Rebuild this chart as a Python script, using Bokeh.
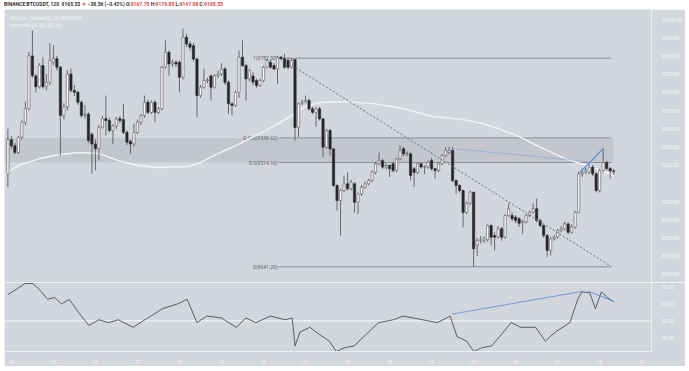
from bokeh.plotting import figure
from bokeh.models import Range1d, FixedTicker, NumeralTickFormatter, Label, Div, ColumnDataSource
from bokeh.layouts import column
from bokeh.core.properties import value
from bokeh.embed import file_html
from bokeh.resources import INLINE

# ---------------- data ----------------
opens = [9150,9340,9306,9270,9353,9436,9510,9800,9690,9630,9747,9630,9655,9765,9785,9738,9472,9520,9700,9610,
         9600,9545,9472,9480,9370,9316,9290,9408,9455,9445,9390,9415,9455,9450,9380,9330,9316,9380,9436,9472,
         9545,9490,9545,9490,9510,9738,9820,9756,9765,9765,9683,9903,9866,9856,9783,9582,9628,9665,9690,9628,
         9692,9700,9728,9655,9537,9528,9600,9793,9747,9674,9690,9665,9637,9665,9738,9765,9747,9728,9793,9785,
         9775,9738,9780,9407,9537,9546,9555,9509,9490,9509,9454,9298,9390,9289,9088,9005,9060,9097,9070,9097,
         8996,9042,9079,9097,9115,9161,9207,9225,9189,9198,9207,9170,9234,9290,9262,9262,9180,9160,9207,9189,
         9189,9225,9180,9170,9207,9253,9270,9280,9115,9088,9060,8940,8990,9051,8760,8785,8785,8790,8868,8813,
         8804,8850,8804,8923,8923,8914,8905,8885,8887,8923,8941,8960,8896,8868,8813,8731,8795,8804,8840,8850,
         8877,8831,8860,8941,9152,9161,9161,9189,9152,9060,9170,9214,9181,9167.75]
highs = [9400,9360,9320,9360,9445,9550,9820,9940,9700,9760,9790,9700,9870,9860,9800,9745,9540,9720,9730,9640,
         9610,9555,9530,9490,9380,9340,9420,9470,9582,9460,9425,9465,9470,9537,9390,9340,9427,9450,9480,9582,
         9560,9555,9555,9520,9745,9885,9830,9780,9775,9775,9950,9920,9880,9870,9790,9640,9730,9680,9700,9700,
         9720,9760,9740,9665,9545,9610,9830,9885,9755,9730,9710,9675,9675,9745,9785,9780,9760,9800,9800,9811,
         9790,9787.5,9780,9545,9560,9582,9565,9520,9520,9520,9460,9400,9400,9295,9095,9070,9143,9160,9120,9105,
         9050,9090,9110,9125,9170,9216,9270,9235,9210,9205,9215,9240,9308,9300,9275,9270,9190,9215,9215,9200,
         9225,9240,9185,9215,9260,9298,9300,9300,9120,9095,9065,9000,9060,9055,8800,8810,8810,8875,8875,8830,
         8865,8860,8930,8990,8940,8925,8915,8900,8930,8950,8990,9015,8905,8875,8820,8805,8815,8850,8865,8890,
         8885,8875,8950,9165,9180,9185,9210,9200,9160,9180,9291,9225,9190,9179.85]
lows = [9080,9290,9260,9262,9340,9420,9500,9680,9600,9620,9620,9610,9640,9750,9720,9253,9450,9500,9600,9580,
        9530,9460,9455,9320,9152,9170,9225,9400,9363,9380,9316,9400,9430,9370,9310,9262,9300,9370,9420,9460,
        9480,9480,9436,9480,9500,9730,9692,9740,9740,9600,9670,9850,9830,9770,9462,9570,9620,9650,9555,9620,
        9680,9690,9640,9482,9472,9520,9570,9740,9555,9660,9640,9625,9630,9655,9730,9730,9720,9646,9775,9730,
        9725,9730,9335,9353,9530,9540,9500,9480,9410,9445,9244,9290,9253,9080,8950,8813,9050,9060,9060,8940,
        8932,9030,9070,9090,9105,9150,9200,9180,9175,9134,9160,9160,9225,9250,9250,9115,9079,9150,9180,9150,
        9180,9170,9125,9160,9200,9245,9260,9105,9042,9050,8858,8930,8980,8641.2,8700,8770,8775,8780,8758,8730,
        8795,8785,8795,8915,8890,8880,8860,8822,8880,8915,8935,8885,8860,8800,8694,8703,8785,8795,8830,8840,
        8820,8825,8850,8935,9134,9150,9150,9140,9050,9050,9160,9170,9127,9147.08]
closes = [9340,9306,9270,9353,9436,9510,9800,9692,9630,9747,9630,9655,9775,9785,9738,9472,9520,9700,9610,9600,
          9545,9472,9480,9335,9316,9290,9408,9455,9445,9390,9415,9455,9445,9380,9326,9316,9380,9436,9472,9545,
          9490,9545,9490,9510,9738,9820,9756,9765,9755,9683,9903,9866,9848,9783,9582,9628,9665,9668,9628,9692,
          9700,9728,9655,9537,9528,9600,9793,9747,9674,9720,9656,9637,9665,9738,9775,9738,9728,9793,9785,9738,
          9738,9775,9407,9537,9546,9555,9509,9490,9509,9454,9298,9390,9289,9088,9005,9060,9097,9070,9106,8996,
          9042,9079,9097,9115,9161,9207,9225,9189,9198,9180,9170,9234,9280,9262,9265,9143,9160,9207,9189,9192,
          9216,9180,9170,9207,9253,9280,9280,9115,9088,9060,8940,8990,9051,8740,8785,8790,8795,8868,8804,8804,
          8850,8804,8923,8960,8905,8896,8880,8890,8923,8941,8960,8896,8868,8813,8731,8795,8804,8840,8850,8877,
          8831,8860,8941,9152,9161,9170,9189,9152,9060,9170,9214,9181,9168,9165.53]
# candle open times, hours after 14th 00:00 (2h candles)
hours = [-2 + 2 * i for i in range(len(closes))]

# RSI readings (hour, value)
rsi_t = [-2, 2.2, 7.8, 12.3, 16.3, 20.7, 24.7, 28.6, 33.1, 38.7, 44.3, 49.9, 55.5, 61.1, 69.5, 77.9,
         86.3, 94.8, 100.4, 106, 111.6, 120, 128.4, 134, 139.6, 148, 156.4, 160.4, 162, 164.8, 170.5,
         176.1, 181.7, 185.6, 190.1, 195.7, 201.3, 209.7, 218.1, 223.7, 234.9, 243.3, 250.6, 254.5,
         260.1, 264.1, 268.6, 274.2, 279.8, 285.4, 291, 299.4, 305, 310.6, 319, 323.5, 325.8, 330.3,
         333.6, 337, 340.4, 344.3]
rsi_v = [65.6, 68.3, 72.2, 72.2, 68.3, 62.8, 63.9, 60, 62.8, 54.4, 47.2, 50.6, 48.9, 50.6, 46.1, 51.7,
         57.2, 60, 62.8, 48.9, 52.8, 51.7, 46.1, 51.7, 48.9, 52.8, 50.6, 51.7, 35, 43.3, 46.1,
         41.7, 37.8, 31.7, 33.9, 35, 40.6, 48.9, 50.6, 52.8, 50.6, 48.9, 52.8, 40.6,
         37.8, 31.7, 33.9, 35, 41.7, 48.9, 46.1, 46.1, 37.8, 43.3, 48.9, 62.8, 67.2, 66.7,
         57.2, 67.2, 63.9, 61.1]

# white moving-average line readings (hour, price)
ma_t = [-3.4, 5.0, 16.3, 27.5, 38.7, 49.9, 61.1, 72.3, 84.7, 100.4, 107.1, 114.4, 128.4, 145.2, 160.4,
        167.7, 176.1, 190.1, 206.9, 223.7, 240.5, 257.4, 268.6, 278.1, 291.0, 302.2, 316.2, 328.6, 344.3]
ma_p = [9154, 9203, 9236, 9258, 9269, 9264, 9225, 9198, 9187, 9192, 9209, 9247, 9308, 9390, 9473,
        9522, 9544, 9549, 9538, 9511, 9467, 9451, 9429, 9401, 9352, 9297, 9236, 9198, 9143]

fib_levels = [9787.50, 9349.62, 9214.16, 8641.20]
fib_labels = ["1(9787.50)", "0.618(9349.62)", "0.5(9214.16)", "0(8641.20)"]

price_ticks = [8600, 8700, 8800, 8900, 9000, 9200, 9300, 9400, 9500, 9600, 9700, 9800, 9900, 10000]
rsi_ticks = [40, 50, 60, 70]
day_ticks = [24 * k for k in range(16)]
day_labels = ["14", "15", "16", "17", "18", "19", "20", "21", "22", "23", "24", "25", "26", "27", "28", "29"]

# trend lines (hour, price)
diag_t, diag_p = [160.4, 342.6], [9747, 8643]
blue_dot_t, blue_dot_p = [251.8, 328.6], [9291, 9220]
blue_t, blue_p = [324.7, 338.1], [9159, 9291]
rsi_blue_t, rsi_blue_p = [251.8, 326.0], [54, 67.5]
rsi_blue2_t, rsi_blue2_p = [330.0, 344.0], [67.5, 61.5]

# ---------------- styling ----------------
BG = "#d4d6de"
BAND = "#c4c6cd"
AXIS_TXT = "#f3f4f7"
XR = Range1d(-3.93, 365.6)

up = [c >= o for o, c in zip(opens, closes)]
src = ColumnDataSource(dict(
    t=hours, o=opens, h=highs, l=lows, c=closes,
    top=[max(o, c) for o, c in zip(opens, closes)],
    bot=[min(o, c) for o, c in zip(opens, closes)],
    fill=["#f7f7f9" if u else "#26272b" for u in up],
    line=["#5a5b60" if u else "#26272b" for u in up],
))

p = figure(width=681, height=273, x_range=XR, y_range=Range1d(8555, 10055),
           output_backend="svg", toolbar_location=None,
           x_axis_location=None, y_axis_location="right",
           min_border_left=0, min_border_right=22, min_border_top=0, min_border_bottom=0,
           background_fill_color=BG, border_fill_color=BG, outline_line_color=None,
           margin=(0, 0, 0, 4))
p.grid.visible = False

# band and fib lines
p.quad(left=[XR.start], right=[hours[-1]], bottom=[fib_levels[2]], top=[fib_levels[1]],
       fill_color=BAND, line_color=None)
p.segment(x0=[152.5] * 4, x1=[hours[-1] - 1.5] * 4, y0=fib_levels, y1=fib_levels,
          line_color="#8d8f97", line_width=1)
p.text(x=[152.0] * 4, y=fib_levels, text=fib_labels, text_align="right", text_baseline="middle",
       text_font_size="5px", text_color="#5d5f66", text_font=value("Roboto"))

# moving average
p.line(ma_t, ma_p, line_color="#f4f4f6", line_width=1.4)

# candles
p.segment(x0="t", x1="t", y0="h", y1="l", source=src, line_color="#4a4b50", line_width=0.8)
p.vbar(x="t", width=1.3, top="top", bottom="bot", source=src,
       fill_color="fill", line_color="line", line_width=0.6)

# trend lines
p.line(diag_t, diag_p, line_color="#6b6d74", line_width=1, line_dash="2 2")
p.line(blue_dot_t, blue_dot_p, line_color="#6f9ce0", line_width=1, line_dash="1 1")
p.line(blue_t, blue_p, line_color="#5b8fe0", line_width=1.3)

ax = p.yaxis[0]
ax.ticker = FixedTicker(ticks=price_ticks)
ax.formatter = NumeralTickFormatter(format="0.00")
ax.major_label_text_font_size = "5px"
ax.major_label_text_color = AXIS_TXT
ax.major_label_text_font = "Roboto"
ax.major_tick_line_color = None
ax.minor_tick_line_color = None
ax.axis_line_color = "#eceef2"
ax.major_label_standoff = 4

# legend text in the pane
p.add_layout(Label(x=6, y=262, x_units="screen", y_units="screen", text="Bitcoin / TetherUS, 2h, BINANCE",
                   text_font_size="5px", text_color="#f2f3f6", text_font="Roboto"))
p.add_layout(Label(x=6, y=255, x_units="screen", y_units="screen", text="Ichimoku (9, 26, 52, 26)",
                   text_font_size="5px", text_color="#f2f3f6", text_font="Roboto"))
# last price tag
p.add_layout(Label(x=661, y=closes[-1], x_units="screen", text="9165.53", text_font_size="5px",
                   text_color="#ffffff", background_fill_color="#1e1f23", text_baseline="middle",
                   text_font="Roboto", padding=1))
p.add_layout(Label(x=661, y=closes[-1] - 50, x_units="screen", text="01:13:13", text_font_size="5px",
                   text_color="#ffffff", background_fill_color="#1e1f23", text_baseline="middle",
                   text_font="Roboto", padding=1))

# ---------------- RSI pane ----------------
r = figure(width=681, height=84, x_range=XR, y_range=Range1d(31.7, 72.8),
           output_backend="svg", toolbar_location=None,
           x_axis_location="below", y_axis_location="right",
           min_border_left=0, min_border_right=22, min_border_top=0, min_border_bottom=10,
           background_fill_color=BG, border_fill_color=BG, outline_line_color="#eceef2",
           margin=(0, 0, 0, 4))
r.grid.visible = False
r.segment(x0=[XR.start], x1=[XR.end], y0=[50], y1=[50], line_color="#f4f4f6", line_width=1.2)
r.line(rsi_t, rsi_v, line_color="#4d4e53", line_width=0.9)
r.line(rsi_blue_t, rsi_blue_p, line_color="#6f9ce0", line_width=1)
r.line(rsi_blue2_t, rsi_blue2_p, line_color="#5b8fe0", line_width=1)

ry = r.yaxis[0]
ry.ticker = FixedTicker(ticks=rsi_ticks)
ry.formatter = NumeralTickFormatter(format="0.00")
ry.major_label_text_font_size = "5px"
ry.major_label_text_color = AXIS_TXT
ry.major_label_text_font = "Roboto"
ry.major_tick_line_color = None
ry.minor_tick_line_color = None
ry.axis_line_color = "#eceef2"
ry.major_label_standoff = 4

rx = r.xaxis[0]
rx.ticker = FixedTicker(ticks=day_ticks)
rx.major_label_overrides = {t: s for t, s in zip(day_ticks, day_labels)}
rx.major_label_text_font_size = "5px"
rx.major_label_text_color = AXIS_TXT
rx.major_label_text_font = "Roboto"
rx.major_tick_line_color = None
rx.minor_tick_line_color = None
rx.axis_line_color = "#eceef2"
rx.major_label_standoff = 2

title = Div(text='<span style="color:#333">BINANCE:BTCUSDT, 120 &nbsp;9165.53 </span>'
                 '<span style="color:#e04040">&#9660;</span>'
                 '<span style="color:#333"> &minus;38.56 (&minus;0.42%) O:</span><span style="color:#e04040">9167.75</span>'
                 '<span style="color:#333"> H:</span><span style="color:#e04040">9179.85</span>'
                 '<span style="color:#333"> L:</span><span style="color:#e04040">9147.08</span>'
                 '<span style="color:#333"> C:</span><span style="color:#e04040">9165.53</span>',
            width=681, height=9, margin=(0, 0, 0, 4),
            styles={"font-size": "5px", "line-height": "9px", "font-family": "Roboto", "font-weight": "bold"})

layout = column(title, p, r, spacing=0, margin=0)
open("out.html", "w").write(file_html(layout, INLINE))
